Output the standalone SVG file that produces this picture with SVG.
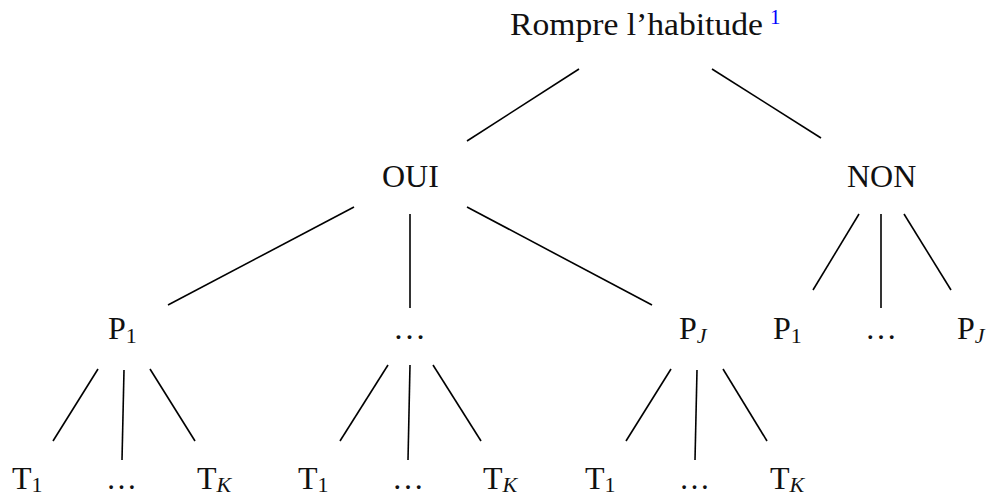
<svg xmlns="http://www.w3.org/2000/svg" width="992" height="498" viewBox="0 0 992 498">
<style>
text{font-family:"Liberation Serif","DejaVu Serif",serif;font-size:32px;fill:#111}
.sub{font-size:22px}
.it{font-style:italic}
.sup{font-size:21px;fill:#0000ff}
.edges line{stroke:#000;stroke-width:1.6;stroke-linecap:butt}
</style>
<rect width="992" height="498" fill="#fff"/>
<g class="edges" id="connectors">
<line x1="579" y1="69" x2="467" y2="141"/>
<line x1="712" y1="69" x2="821" y2="138"/>
<line x1="354" y1="207" x2="168" y2="305"/>
<line x1="410" y1="214" x2="410" y2="308"/>
<line x1="467" y1="207" x2="652" y2="305"/>
<line x1="859" y1="214" x2="813" y2="290"/>
<line x1="881" y1="214" x2="881" y2="308"/>
<line x1="904" y1="214" x2="951" y2="290"/>
<line x1="98" y1="369" x2="53" y2="441"/>
<line x1="124" y1="370" x2="122" y2="460"/>
<line x1="150" y1="369" x2="195" y2="441"/>
<line x1="388" y1="365" x2="340" y2="441"/>
<line x1="410" y1="365" x2="408" y2="460"/>
<line x1="433" y1="365" x2="481" y2="441"/>
<line x1="671" y1="369" x2="626" y2="441"/>
<line x1="697" y1="370" x2="695" y2="460"/>
<line x1="723" y1="369" x2="767" y2="441"/>
</g>
<g id="root"><text x="510" y="35" textLength="253" lengthAdjust="spacingAndGlyphs">Rompre l’habitude</text><text class="sup" x="770" y="24">1</text></g>
<g id="oui"><text x="382" y="187">OUI</text></g>
<g id="non"><text x="847" y="187">NON</text></g>
<g id="oui-p1"><text x="108" y="339">P<tspan class="sub" dy="4">1</tspan></text></g>
<g id="oui-dots"><text x="393" y="339" textLength="33" lengthAdjust="spacingAndGlyphs">…</text></g>
<g id="oui-pj"><text x="679" y="339">P<tspan class="sub it" dy="4">J</tspan></text></g>
<g id="non-p1"><text x="773" y="339">P<tspan class="sub" dy="4">1</tspan></text></g>
<g id="non-dots"><text x="865" y="339" textLength="32" lengthAdjust="spacingAndGlyphs">…</text></g>
<g id="non-pj"><text x="957" y="339">P<tspan class="sub it" dy="4">J</tspan></text></g>
<g id="p1-t1"><text x="12" y="489">T<tspan class="sub" dy="3">1</tspan></text></g>
<g id="p1-dots"><text x="106" y="489" textLength="31" lengthAdjust="spacingAndGlyphs">…</text></g>
<g id="p1-tk"><text x="197" y="489">T<tspan class="sub it" dy="3">K</tspan></text></g>
<g id="pd-t1"><text x="298" y="489">T<tspan class="sub" dy="3">1</tspan></text></g>
<g id="pd-dots"><text x="392" y="489" textLength="32" lengthAdjust="spacingAndGlyphs">…</text></g>
<g id="pd-tk"><text x="483" y="489">T<tspan class="sub it" dy="3">K</tspan></text></g>
<g id="pj-t1"><text x="585" y="489">T<tspan class="sub" dy="3">1</tspan></text></g>
<g id="pj-dots"><text x="679" y="489" textLength="31" lengthAdjust="spacingAndGlyphs">…</text></g>
<g id="pj-tk"><text x="770" y="489">T<tspan class="sub it" dy="3">K</tspan></text></g>
</svg>
